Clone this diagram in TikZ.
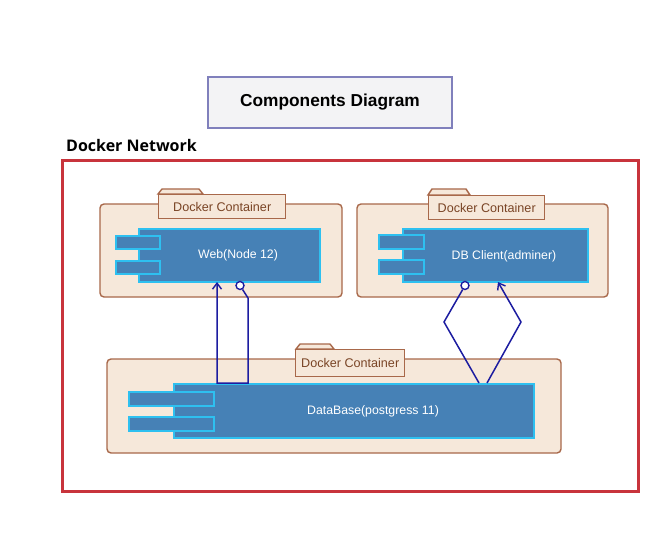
\documentclass[tikz,border=0pt]{standalone}
\usepackage{fontspec}
\setmainfont{Liberation Sans}
\newfontfamily\netfont{Open Sans}
\usetikzlibrary{arrows.meta}
\definecolor{beige}{HTML}{F6E8DA}
\definecolor{brownb}{HTML}{A8684A}
\definecolor{browntxt}{HTML}{7A4526}
\definecolor{compfill}{HTML}{4681B6}
\definecolor{compline}{HTML}{2EC0F0}
\definecolor{conncol}{HTML}{1C1CA0}
\definecolor{redb}{HTML}{C8343C}
\definecolor{titlefill}{HTML}{F3F3F5}
\definecolor{titleline}{HTML}{8080BC}
\tikzset{
  container/.style={draw=brownb, fill=beige, line width=1.4pt, rounded corners=4pt},
  tabshape/.style={draw=brownb, fill=beige, line width=1.4pt},
  tablabel/.style={draw=brownb, fill=beige, line width=1.4pt, inner sep=0pt, anchor=north west,
    text=browntxt, font=\fontsize{12.6}{14}\selectfont},
  comp/.style={draw=compline, fill=compfill, line width=1.5pt, inner sep=0pt, anchor=north west},
  comptext/.style={text=white, font=\fontsize{12.3}{14}\selectfont},
  port/.style={draw=compline, fill=compfill, line width=1.5pt, inner sep=0pt, anchor=north west},
  conn/.style={draw=conncol, line width=1.5pt},
  sock/.style={circle, draw=conncol, fill=white, line width=1.4pt, minimum size=8pt, inner sep=0pt},
  barb/.style={-{Straight Barb[length=6pt,width=9pt,line width=1.4pt]}}
}
\begin{document}
\begin{tikzpicture}[x=1pt,y=-1pt]
\useasboundingbox (0,0) rectangle (666,548);
% title
\node[draw=titleline, fill=titlefill, line width=1.2pt, minimum width=244pt, minimum height=51pt,
  inner sep=0pt, font=\fontsize{17.3}{20}\selectfont\bfseries] (title) at (330,102.5) {Components Diagram};
% network
\node[anchor=west, inner sep=0pt, font=\netfont\fontsize{16}{18}\selectfont\bfseries] (netlabel) at (66,146) {Docker Network};
\draw[draw=redb, line width=3pt] (62,161) rectangle (638,491);

% container 1
\draw[container] (100,204) rectangle (342,297);
\draw[tabshape] (158,194) -- (162,189) -- (199,189) -- (203,194) -- cycle;
\node[tablabel, minimum width=127pt, minimum height=24pt] (tab1) at (158,194) {Docker Container};
\node[comp, minimum width=181pt, minimum height=53pt] (web) at (138,228) {};
\node[comptext] (webtxt) at (238,255) {Web(Node 12)};
\node[port, minimum width=44pt, minimum height=13pt] (wp1) at (115,235) {};
\node[port, minimum width=44pt, minimum height=13pt] (wp2) at (115,260) {};

% container 2
\draw[container] (357,204) rectangle (608,297);
\draw[tabshape] (428,195) -- (432,189) -- (466,189) -- (470,195) -- cycle;
\node[tablabel, minimum width=116pt, minimum height=24pt] (tab2) at (428,195) {Docker Container};
\node[comp, minimum width=185pt, minimum height=53pt] (dbc) at (402,228) {};
\node[comptext] (dbctxt) at (504,256) {DB Client(adminer)};
\node[port, minimum width=45pt, minimum height=14pt] (cp1) at (378,234) {};
\node[port, minimum width=45pt, minimum height=14pt] (cp2) at (378,259) {};

% container 3
\draw[container] (107,359) rectangle (561,453);
\draw[tabshape] (296,349) -- (300,344) -- (330,344) -- (334,349) -- cycle;
\node[tablabel, minimum width=109pt, minimum height=27pt] (tab3) at (295,349) {Docker Container};
\node[comp, minimum width=360pt, minimum height=54pt] (db) at (173,383) {};
\node[comptext] (dbtxt) at (373,411) {DataBase(postgress 11)};
\node[port, minimum width=85pt, minimum height=14pt] (dp1) at (128,391) {};
\node[port, minimum width=85pt, minimum height=14pt] (dp2) at (128,416) {};

% connectors
\node[sock] (sA) at (240,285.5) {};
\node[sock] (sB) at (465,285.5) {};
\coordinate (aTip) at (217,282);
\coordinate (bTip) at (498,282);
\draw[conn, barb] (sA) -- (248,298) -- (248,383) -- (217,383) -- (aTip);
\draw[conn] (sB) -- (444,322) -- (479,383);
\draw[conn, barb] (487,383) -- (521,322) -- (bTip);
\end{tikzpicture}
\end{document}
